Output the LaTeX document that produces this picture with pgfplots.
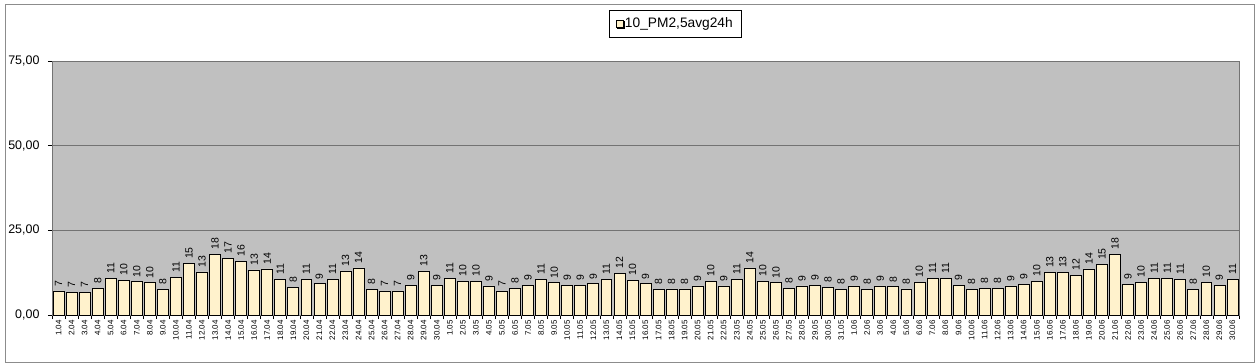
\documentclass[border=0pt]{standalone}
\usepackage{fontspec}
\setmainfont{Liberation Sans}
\usepackage{pgfplots}
\usepackage{pgfplotstable}
\pgfplotsset{compat=1.18}
\usetikzlibrary{shadows}
\definecolor{barfill}{RGB}{255,242,204}
\definecolor{plotbg}{RGB}{192,192,192}
\pgfplotsset{smallsquare/.style={legend image code/.code={\draw[##1, line width=0.5bp] (0bp,-3.5bp) rectangle (7bp,3.5bp);}}}
\pgfplotstableread{
lab val
1.04 7.1
2.04 6.7
3.04 6.7
4.04 7.9
5.04 10.9
6.04 10.3
7.04 9.8
8.04 9.6
9.04 7.6
10.04 11.2
11.04 15.3
12.04 12.7
13.04 18.0
14.04 16.8
15.04 15.9
16.04 13.3
17.04 13.6
18.04 10.6
19.04 8.2
20.04 10.6
21.04 9.2
22.04 10.6
23.04 13.0
24.04 13.9
25.04 7.6
26.04 7.1
27.04 7.1
28.04 8.8
29.04 13.0
30.04 8.8
1.05 10.9
2.05 10.0
3.05 10.0
4.05 8.6
5.05 7.0
6.05 7.9
7.05 8.8
8.05 10.6
9.05 9.6
10.05 8.8
11.05 8.8
12.05 9.2
13.05 10.6
14.05 12.4
15.05 10.3
16.05 9.2
17.05 7.6
18.05 7.7
19.05 7.7
20.05 8.6
21.05 10.0
22.05 8.6
23.05 10.6
24.05 13.9
25.05 10.0
26.05 9.6
27.05 7.9
28.05 8.6
29.05 8.8
30.05 8.2
31.05 7.6
1.06 8.6
2.06 7.6
3.06 8.6
4.06 8.4
5.06 7.7
6.06 9.7
7.06 10.9
8.06 10.9
9.06 8.8
10.06 7.6
11.06 7.9
12.06 7.9
13.06 8.6
14.06 9.1
15.06 10.0
16.06 12.6
17.06 12.6
18.06 11.8
19.06 13.6
20.06 15.0
21.06 18.0
22.06 9.1
23.06 9.7
24.06 10.9
25.06 10.9
26.06 10.6
27.06 7.6
28.06 9.7
29.06 8.8
30.06 10.6
}\data
\begin{document}
\begin{tikzpicture}
\path[use as bounding box] (0bp,0bp) rectangle (1257bp,364bp);
\draw[black!45, line width=0.8bp] (5bp,2bp) rectangle (1254bp,360bp);
\begin{axis}[
  at={(52bp,49bp)}, anchor=south west,
  scale only axis, width=1187bp, height=254bp,
  ybar, bar width=0.84,
  xmin=-0.5, xmax=90.5, ymin=0, ymax=75,
  axis background/.style={fill=plotbg},
  axis line style={black!55, line width=0.8bp},
  /pgf/number format/assume math mode=true,
  xtick={0,...,90},
  xticklabels from table={\data}{lab},
  major x tick style={draw=none},
  minor xtick={-0.5,0.5,...,90.5},
  minor x tick style={black, line width=0.6bp},
  minor tick length=4bp,
  major tick length=4bp,
  tick align=outside,
  xtick pos=bottom, ytick pos=left,
  xticklabel style={rotate=90, anchor=east, font=\fontsize{8}{9}\selectfont, inner sep=1bp},
  ytick={0,25,50,75},
  y tick style={black, line width=0.6bp},
  yticklabel style={font=\fontsize{12.5}{14}\selectfont, xshift=-5bp, /pgf/number format/.cd, fixed, fixed zerofill, precision=2, use comma},
  ymajorgrids,
  major grid style={black!55, line width=0.8bp},
  nodes near coords={\pgfmathprintnumber[fixed,precision=0]{\pgfplotspointmeta}},
  nodes near coords style={rotate=90, anchor=west, font=\fontsize{10.5}{11}\selectfont, inner sep=4bp, black},
  legend style={at={(0.525,1)}, anchor=south, yshift=24bp, draw=black, fill=white,
    font=\fontsize{13.8}{15}\selectfont, inner xsep=6bp, inner ysep=5.5bp,
    drop shadow={shadow xshift=1.5bp, shadow yshift=-1.5bp, fill=black!70, opacity=1},
    legend cell align=left},
  clip=false,
]
\addplot[fill=barfill, draw=black, line width=0.7bp, smallsquare]
  table[x expr=\coordindex, y=val] {\data};
\addlegendentry{10\_PM2,5avg24h}
\end{axis}
\end{tikzpicture}
\end{document}
